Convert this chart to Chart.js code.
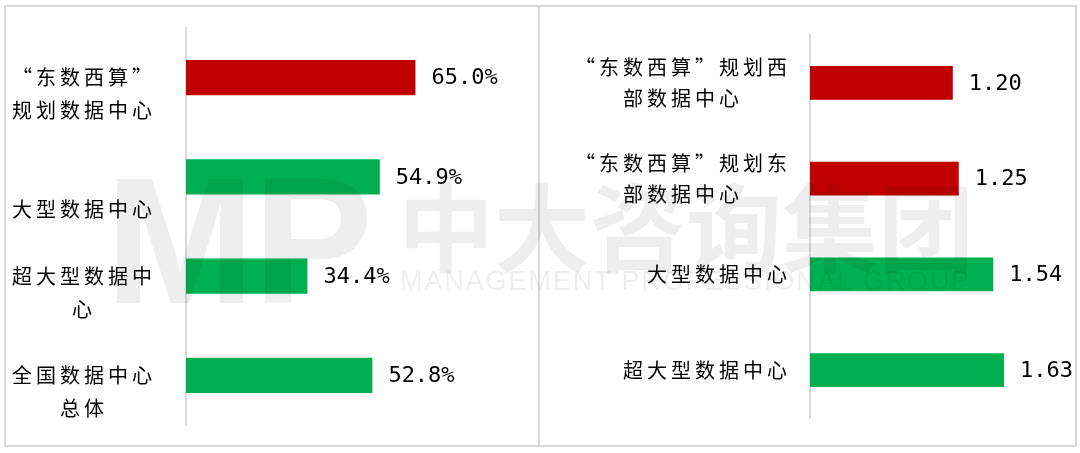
<!DOCTYPE html>
<html><head><meta charset="utf-8">
<script src="https://cdn.jsdelivr.net/npm/chart.js@4/dist/chart.umd.min.js"></script>
<style>
html,body{margin:0;padding:0;background:#fff;width:1080px;height:453px;overflow:hidden;}
#frame{position:absolute;left:4px;top:5px;width:1069px;height:438px;border:2px solid #d9d9d9;}
#divider{position:absolute;left:538px;top:5px;width:2px;height:442px;background:#d9d9d9;}
canvas{position:absolute;top:0;}
#c1{left:0;} #c2{left:540px;}
.wm{position:absolute;color:rgba(0,0,0,0.065);pointer-events:none;white-space:nowrap;z-index:5;line-height:1;}
#wm1{left:105px;top:137px;font:700 180px "Liberation Sans",Arial,sans-serif;letter-spacing:-2px;}
#wm2{left:398px;top:153px;font:700 96px "Noto Sans CJK SC",sans-serif;}
#wm3{left:400px;top:266px;font:400 27px "Liberation Sans",Arial,sans-serif;letter-spacing:1.9px;}
</style></head>
<body>
<div id="frame"></div>
<div id="divider"></div>
<canvas id="c1" width="540" height="453"></canvas>
<canvas id="c2" width="540" height="453"></canvas>
<div class="wm" id="wm1">MP</div>
<div class="wm" id="wm2">中大咨询集团</div>
<div class="wm" id="wm3">MANAGEMENT PROFESSIONAL GROUP</div>
<script>
// ---- data ----
const leftCategories = ['“东数西算”规划数据中心', '大型数据中心', '超大型数据中心', '全国数据中心总体'];
const leftTickLabels = [['“东数西算”', '规划数据中心'], ['大型数据中心'], ['超大型数据中', '心'], ['全国数据中心', '总体']];
const leftValues = [65.0, 54.9, 34.4, 52.8];

const rightCategories = ['“东数西算”规划西部数据中心', '“东数西算”规划东部数据中心', '大型数据中心', '超大型数据中心'];
const rightTickLabels = [['“东数西算”规划西', '部数据中心'], ['“东数西算”规划东', '部数据中心'], ['大型数据中心'], ['超大型数据中心']];
const rightValues = [1.20, 1.25, 1.54, 1.63];

const RED = '#C00000', GREEN = '#00B050';
const leftColors = [RED, GREEN, GREEN, GREEN];
const rightColors = [RED, RED, GREEN, GREEN];

const CJK = '"Noto Sans CJK SC", "Noto Sans CJK JP", sans-serif';

const spacingPlugin = {
  id: 'spacing',
  beforeUpdate(chart) { chart.ctx.letterSpacing = '4px'; },
  beforeDraw(chart) { chart.ctx.letterSpacing = '4px'; }
};

function valueLabels(fmt) {
  return {
    id: 'valueLabels',
    afterDatasetsDraw(chart) {
      const ctx = chart.ctx;
      const meta = chart.getDatasetMeta(0);
      const data = chart.data.datasets[0].data;
      ctx.save();
      ctx.letterSpacing = '0px';
      ctx.font = '22px "DejaVu Sans Mono", monospace';
      ctx.fillStyle = '#000';
      ctx.textAlign = 'left';
      ctx.textBaseline = 'middle';
      meta.data.forEach((el, i) => {
        ctx.fillText(fmt(data[i]), el.x + 16, el.y + 1);
      });
      ctx.restore();
    }
  };
}

function baseOptions(xMax, pad, yWidth, tickOpts) {
  return {
    indexAxis: 'y',
    responsive: false,
    animation: false,
    events: [],
    layout: { padding: pad },
    plugins: { legend: { display: false }, tooltip: { enabled: false } },
    scales: {
      x: { display: false, min: 0, max: xMax },
      y: {
        grid: { display: false, drawTicks: false },
        border: { display: true, color: '#d9d9d9', width: 2 },
        afterFit(s) { s.width = yWidth; s.paddingTop = 0; s.paddingBottom = 0; },
        ticks: Object.assign({ color: '#000', autoSkip: false }, tickOpts)
      }
    }
  };
}

// Left panel: lines bottom-aligned in a 3-line block centred on the bar
new Chart(document.getElementById('c1'), {
  type: 'bar',
  data: {
    labels: leftCategories,
    datasets: [{ data: leftValues, backgroundColor: leftColors, borderWidth: 0,
                 categoryPercentage: 1, barPercentage: 0.355 }]
  },
  options: baseOptions(100, { left: 0, right: 1, top: 28, bottom: 28 }, 186, {
    crossAlign: 'center',
    padding: 30,
    font: { family: CJK, size: 20, lineHeight: 1.65 },
    callback(v, i) {
      const lines = leftTickLabels[i].slice();
      while (lines.length < 3) lines.unshift('');
      return lines;
    }
  }),
  plugins: [spacingPlugin, valueLabels(v => v.toFixed(1) + '%')]
});

// Right panel: block right-aligned, lines centred within block
new Chart(document.getElementById('c2'), {
  type: 'bar',
  data: {
    labels: rightCategories,
    datasets: [{ data: rightValues, backgroundColor: rightColors, borderWidth: 0,
                 categoryPercentage: 1, barPercentage: 0.355 }]
  },
  options: baseOptions(2, { left: 0, right: 32, top: 35, bottom: 35 }, 270, {
    crossAlign: 'near',
    padding: 19,
    font: { family: CJK, size: 20, lineHeight: 1.55 },
    callback(v, i) {
      const lines = rightTickLabels[i];
      const maxLen = Math.max(...lines.map(l => l.length));
      return lines.map(l => l + '\u3000'.repeat(Math.floor((maxLen - l.length) / 2)));
    }
  }),
  plugins: [spacingPlugin, valueLabels(v => v.toFixed(2))]
});
</script>
</body></html>
